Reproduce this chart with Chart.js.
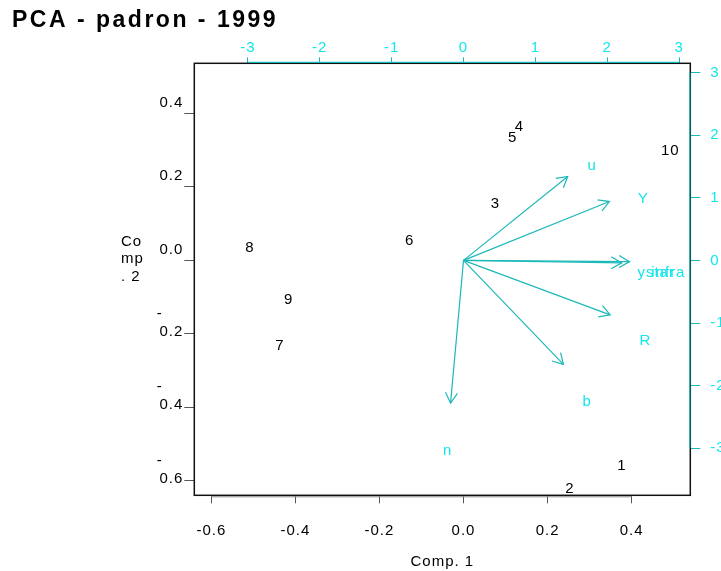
<!DOCTYPE html>
<html>
<head>
<meta charset="utf-8">
<title>PCA - padron - 1999</title>
<script src="https://cdn.jsdelivr.net/npm/chart.js@4/dist/chart.umd.min.js"></script>
<style>
  html, body { margin: 0; padding: 0; background: #fff; }
  canvas { display: block; }
</style>
</head>
<body>
<canvas id="biplot" width="721" height="571"></canvas>
<script>
// scores (Comp. 1 / Comp. 2), black labels
var obsLabels = ["1", "2", "3", "4", "5", "6", "7", "8", "9", "10"];
var obsX = [0.377, 0.253, 0.076, 0.133, 0.117, -0.128, -0.437, -0.508, -0.416, 0.492];
var obsY = [-0.560, -0.623, 0.153, 0.364, 0.334, 0.052, -0.233, 0.033, -0.108, 0.298];

// variable loadings on the top/right scale, cyan arrows
var varLabels = ["u", "Y", "ystar", "infra", "R", "b", "n"];
var arrowX = [1.45, 2.03, 2.20, 2.31, 2.04, 1.39, -0.18];
var arrowY = [1.34, 0.94, -0.04, -0.02, -0.87, -1.66, -2.28];
var labelX = [1.79, 2.50, 2.68, 2.85, 2.53, 1.72, -0.22];
var labelY = [1.51, 0.99, -0.20, -0.20, -1.28, -2.26, -3.05];

// ticks
var xTicks = [-0.6, -0.4, -0.2, 0.0, 0.2, 0.4];
var yTicks = [-0.6, -0.4, -0.2, 0.0, 0.2, 0.4];
var secTicks = [-3, -2, -1, 0, 1, 2, 3];

var FONT = "'Liberation Sans', Arial, sans-serif";
var LINE = "#1cb8b8";
var CYAN = "#12e6ea";
var SPACING = "1px";

var datasets = [{
  label: "scores",
  data: obsX.map(function (x, i) { return { x: x, y: obsY[i] }; }),
  pointRadius: 0,
  xAxisID: "x",
  yAxisID: "y"
}];
varLabels.forEach(function (name, i) {
  datasets.push({
    label: name,
    data: [{ x: 0, y: 0 }, { x: arrowX[i], y: arrowY[i] }],
    showLine: true,
    borderColor: LINE,
    borderWidth: 1.2,
    pointRadius: 0,
    xAxisID: "x2",
    yAxisID: "y2"
  });
});

var biplotDecor = {
  id: "biplotDecor",
  beforeDraw: function (chart) {
    chart.ctx.letterSpacing = SPACING;
  },
  afterDatasetsDraw: function (chart) {
    var ctx = chart.ctx;
    var a = chart.chartArea;
    var sx = chart.scales.x, sy = chart.scales.y;
    var sx2 = chart.scales.x2, sy2 = chart.scales.y2;
    ctx.save();

    // frame
    ctx.strokeStyle = "#111";
    ctx.lineWidth = 1.5;
    ctx.strokeRect(a.left, a.top, a.right - a.left, a.bottom - a.top);

    // grey axis line under the bottom frame
    ctx.strokeStyle = "#888";
    ctx.lineWidth = 1;
    ctx.beginPath();
    ctx.moveTo(sx.getPixelForValue(xTicks[0]), a.bottom + 1.5);
    ctx.lineTo(sx.getPixelForValue(xTicks[xTicks.length - 1]), a.bottom + 1.5);
    ctx.stroke();

    // cyan axis lines of the second scale
    ctx.strokeStyle = LINE;
    ctx.lineWidth = 1.2;
    ctx.beginPath();
    ctx.moveTo(sx2.getPixelForValue(-3), a.top - 1);
    ctx.lineTo(sx2.getPixelForValue(3), a.top - 1);
    ctx.moveTo(a.right - 0.5, sy2.getPixelForValue(3));
    ctx.lineTo(a.right - 0.5, sy2.getPixelForValue(-3));
    ctx.stroke();

    // arrow heads
    for (var i = 1; i < chart.data.datasets.length; i++) {
      var pts = chart.getDatasetMeta(i).data;
      var p0 = pts[0], p1 = pts[1];
      var ang = Math.atan2(p1.y - p0.y, p1.x - p0.x);
      var len = 12, spread = Math.PI / 6;
      ctx.beginPath();
      ctx.moveTo(p1.x - len * Math.cos(ang - spread), p1.y - len * Math.sin(ang - spread));
      ctx.lineTo(p1.x, p1.y);
      ctx.lineTo(p1.x - len * Math.cos(ang + spread), p1.y - len * Math.sin(ang + spread));
      ctx.stroke();
    }

    ctx.letterSpacing = SPACING;
    ctx.font = "15px " + FONT;
    ctx.textAlign = "center";
    ctx.textBaseline = "middle";

    // score labels
    ctx.fillStyle = "#000";
    chart.getDatasetMeta(0).data.forEach(function (p, i) {
      ctx.fillText(obsLabels[i], p.x, p.y);
    });

    // variable labels
    ctx.fillStyle = CYAN;
    varLabels.forEach(function (name, i) {
      ctx.fillText(name, sx2.getPixelForValue(labelX[i]), sy2.getPixelForValue(labelY[i]));
    });

    // y axis title, wrapped like the original
    ctx.fillStyle = "#000";
    ctx.textAlign = "left";
    ctx.fillText("Co", 121, 242);
    ctx.fillText("mp", 121, 259);
    ctx.fillText(". 2", 121, 277);

    // main title
    ctx.letterSpacing = "2.5px";
    ctx.font = "bold 23px " + FONT;
    ctx.fillText("PCA - padron - 1999", 12, 21);
    ctx.restore();
  }
};

new Chart(document.getElementById("biplot"), {
  type: "scatter",
  data: { datasets: datasets },
  plugins: [biplotDecor],
  options: {
    responsive: false,
    devicePixelRatio: 1,
    animation: false,
    layout: { padding: 0 },
    plugins: { legend: { display: false }, tooltip: { enabled: false }, title: { display: false } },
    scales: {
      x: {
        type: "linear", position: "bottom", min: -0.6405, max: 0.5395,
        afterBuildTicks: function (s) { s.ticks = xTicks.map(function (v) { return { value: v }; }); },
        afterFit: function (s) { s.height = 75.7; },
        grid: { drawOnChartArea: false, drawTicks: true, tickLength: 8, color: "#555" },
        border: { display: false },
        ticks: {
          color: "#000", font: { size: 15, family: FONT }, padding: 19, maxRotation: 0, autoSkip: false,
          callback: function (v) { return v.toFixed(1); }
        },
        title: { display: true, text: "Comp. 1", color: "#000", font: { size: 15, family: FONT }, padding: { top: 0, bottom: 0 } }
      },
      y: {
        type: "linear", position: "left", min: -0.6395, max: 0.5365,
        afterBuildTicks: function (s) { s.ticks = yTicks.map(function (v) { return { value: v }; }); },
        afterFit: function (s) { s.width = 194.3; },
        grid: { drawOnChartArea: false, drawTicks: true, tickLength: 10, color: "#555" },
        border: { display: false },
        ticks: {
          color: "#000", font: { size: 15, family: FONT, lineHeight: 18 / 15 }, padding: 1, labelOffset: -2, autoSkip: false,
          callback: function (v) {
            return v < 0 ? ["-    ", (-v).toFixed(1), ""] : [v.toFixed(1), ""];
          }
        }
      },
      x2: {
        type: "linear", position: "top", min: -3.745, max: 3.155,
        afterBuildTicks: function (s) { s.ticks = secTicks.map(function (v) { return { value: v }; }); },
        afterFit: function (s) { s.height = 63.3; },
        grid: { drawOnChartArea: false, drawTicks: true, tickLength: 6, color: LINE },
        border: { display: false },
        ticks: { color: CYAN, font: { size: 15, family: FONT }, padding: 0, maxRotation: 0, autoSkip: false }
      },
      y2: {
        type: "linear", position: "right", min: -3.752, max: 3.148,
        afterBuildTicks: function (s) { s.ticks = secTicks.map(function (v) { return { value: v }; }); },
        afterFit: function (s) { s.width = 30.7; },
        grid: { drawOnChartArea: false, drawTicks: true, tickLength: 10, color: LINE },
        border: { display: false },
        ticks: { color: CYAN, font: { size: 15, family: FONT }, padding: 10, autoSkip: false }
      }
    }
  }
});
</script>
</body>
</html>
